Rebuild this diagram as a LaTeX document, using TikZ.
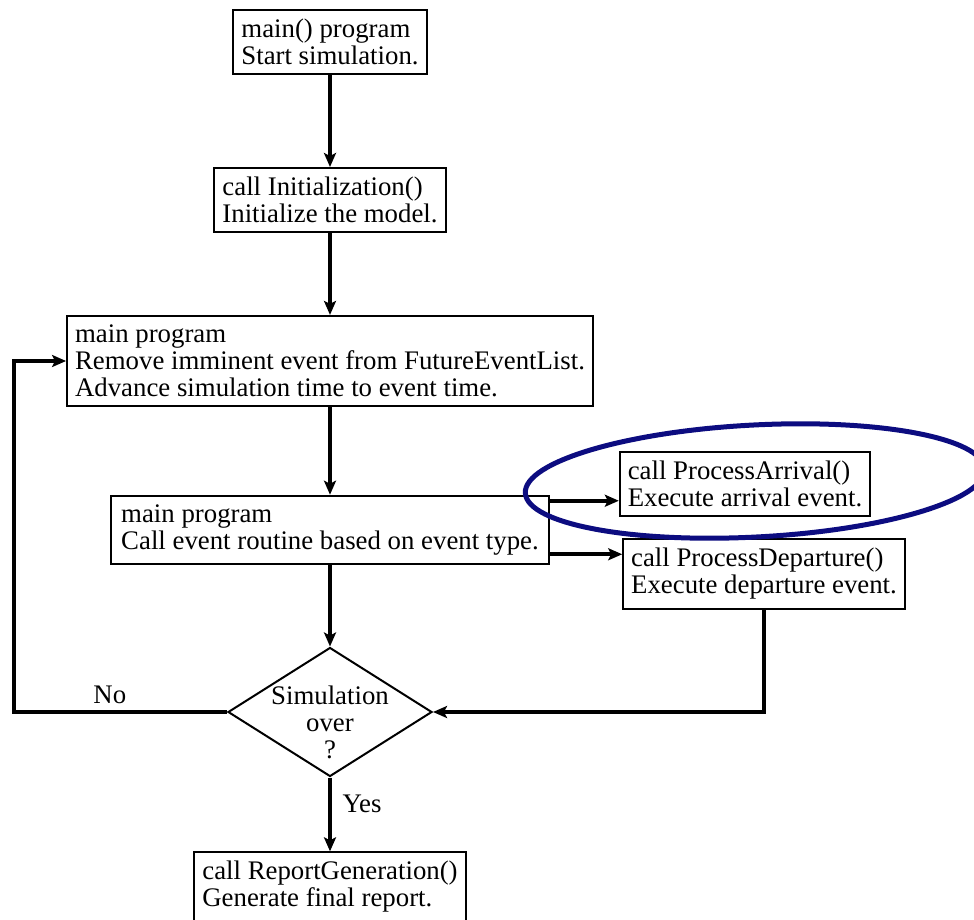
\documentclass[tikz,border=0pt]{standalone}
\usepackage{fontspec}
\setmainfont{Liberation Serif}
\usetikzlibrary{arrows.meta,shapes.geometric}
\definecolor{ringblue}{RGB}{12,12,128}
\tikzset{
  box/.style={draw,line width=1pt,align=left,inner xsep=4pt,inner ysep=4.5pt,font=\fontsize{13.4}{13.5}\selectfont},
  decision/.style={draw,diamond,line width=1pt,minimum width=102pt,minimum height=64.5pt,inner sep=0pt},
  flow/.style={line width=1.9pt,-{Stealth[length=7pt,width=6pt,inset=1.5pt]}},
  tag/.style={font=\fontsize{13.4}{13.5}\selectfont}
}
\begin{document}
\begin{tikzpicture}[x=0.5pt,y=-0.5pt]
\useasboundingbox (0,0) rectangle (974,920);
\node[box] (start) at (330,42) {main() program\\Start simulation.};
\node[box] (init) at (330,200) {call Initialization()\\Initialize the model.};
\node[box] (advance) at (330,361) {main program\\Remove imminent event from FutureEventList.\\Advance simulation time to event time.};
\node[box,inner xsep=5pt] (dispatch) at (330,530) {main program\\Call event routine based on event type.};
\node[box] (arrival) at (745,484) {call ProcessArrival()\\Execute arrival event.};
\node[box] (departure) at (764,574) {call ProcessDeparture()\\Execute departure event.};
\node[decision] (over) at (330,712) {};
\node[tag,align=center] (overtext) at (330,722) {Simulation\\over\\?};
\node[box] (report) at (330,887) {call ReportGeneration()\\Generate final report.};
\coordinate (loop) at (14,712);
\draw[flow] (start) -- (init);
\draw[flow] (init) -- (advance);
\draw[flow] (advance) -- (dispatch);
\draw[flow] (dispatch) -- (over);
\draw[flow] ([yshift=-3pt]dispatch.north east) -- ([yshift=-3pt]dispatch.north east -| arrival.west);
\draw[flow] ([yshift=5.5pt]dispatch.south east) -- ([yshift=5.5pt]dispatch.south east -| departure.west);
\draw[flow] (departure.south) |- (over.east);
\draw[flow] (over.west) -- node[tag,above,pos=0.55] (no) {No} (loop) |- (advance.west);
\draw[flow] (over.south) -- node[tag,right,pos=0.35,xshift=2pt] (yes) {Yes} (report);
\draw[ringblue,line width=2.5pt,rotate around={3:(755,481)}] (755,481) ellipse [x radius=115pt,y radius=28pt];
\end{tikzpicture}
\end{document}
